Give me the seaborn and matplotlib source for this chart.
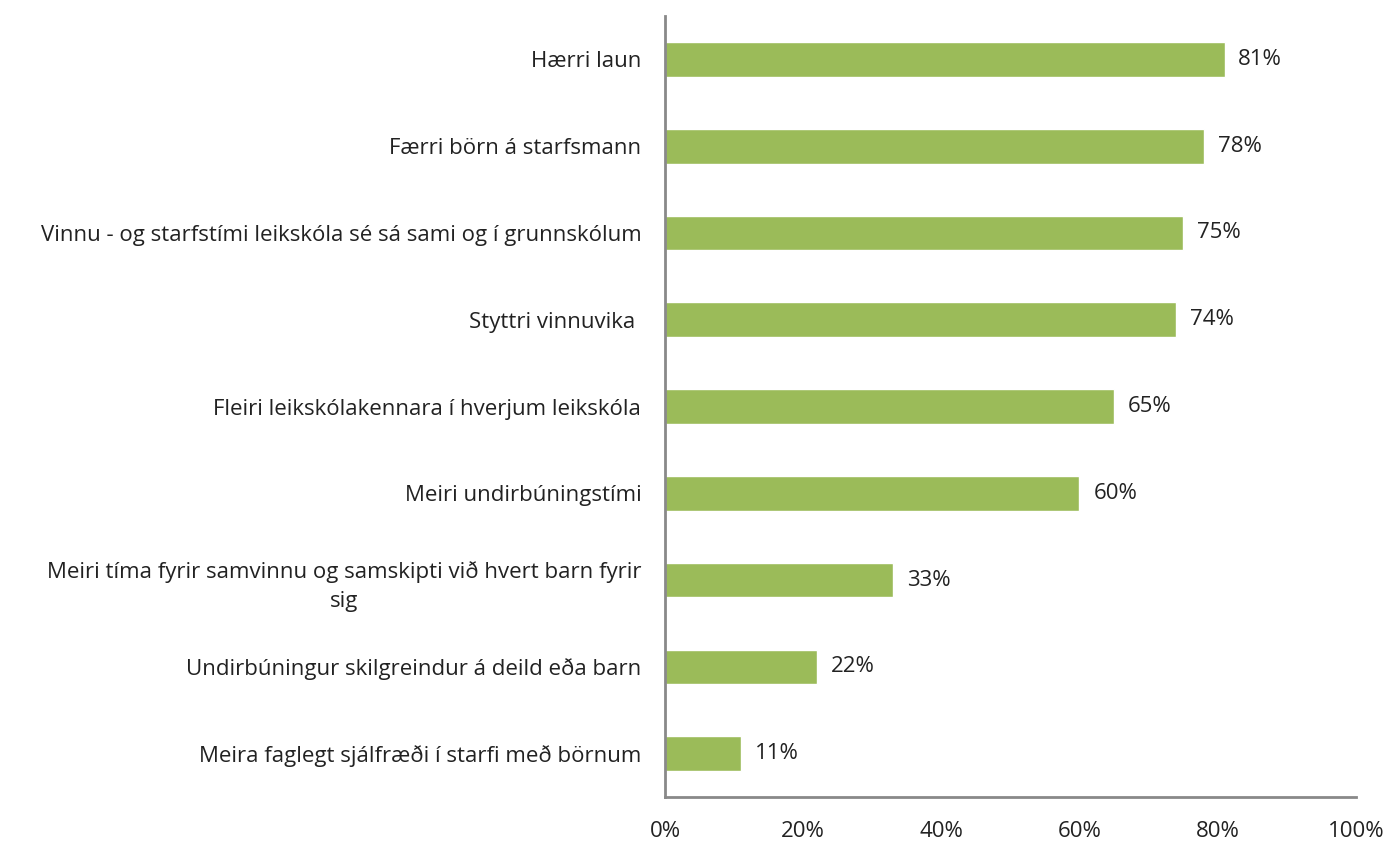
import pandas as pd
import seaborn as sns
import matplotlib.pyplot as plt

sns.set_theme(style='white')
plt.rcParams['font.family'] = ['Open Sans', 'DejaVu Sans']

categories = [
    'Hærri laun',
    'Færri börn á starfsmann',
    'Vinnu - og starfstími leikskóla sé sá sami og í grunnskólum',
    'Styttri vinnuvika ',
    'Fleiri leikskólakennara í hverjum leikskóla',
    'Meiri undirbúningstími',
    'Meiri tíma fyrir samvinnu og samskipti við hvert barn fyrir\nsig',
    'Undirbúningur skilgreindur á deild eða barn',
    'Meira faglegt sjálfræði í starfi með börnum',
]
values = [81, 78, 75, 74, 65, 60, 33, 22, 11]
xticks = [0, 20, 40, 60, 80, 100]

df = pd.DataFrame({'category': categories, 'value': values})

fig = plt.figure(figsize=(13.92, 8.42), dpi=100)
ax = fig.add_axes([0.4777, 0.0534, 0.4963, 0.9276])

sns.barplot(data=df, x='value', y='category', color='#9BBB59', width=0.4,
            saturation=1, ax=ax)

for i, v in enumerate(values):
    ax.text(v + 2.0, i, f'{v}%', va='center', ha='left', fontsize=16, color='#222222')

ax.set_xlim(0, 100)
ax.set_xticks(xticks)
ax.set_xticklabels([f'{t}%' for t in xticks], fontsize=16, color='#222222')
ax.tick_params(axis='x', length=0, pad=17)
ax.tick_params(axis='y', length=0, pad=17, labelsize=16, labelcolor='#222222')
for lbl in ax.get_yticklabels():
    lbl.set_multialignment('center')
    lbl.set_linespacing(1.5)
ax.set_xlabel('')
ax.set_ylabel('')

for side in ['top', 'right']:
    ax.spines[side].set_visible(False)
for side in ['left', 'bottom']:
    ax.spines[side].set_color('#898989')
    ax.spines[side].set_linewidth(2)

plt.savefig('out.png', dpi=100)
